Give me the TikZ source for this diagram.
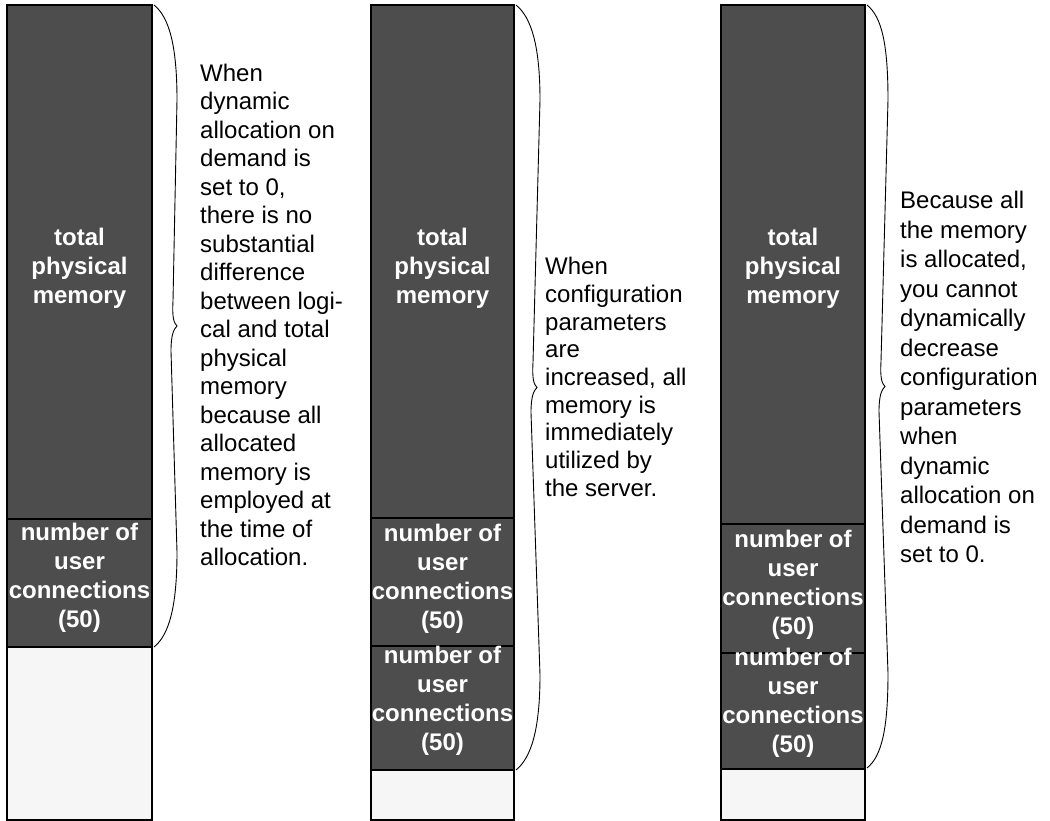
\documentclass[tikz,border=0pt]{standalone}
\usepackage{fontspec}
\setmainfont{Liberation Sans}
\definecolor{memdark}{RGB}{77,77,77}
\definecolor{memfree}{RGB}{246,246,246}
\tikzset{memfig/.style={x=1pt,y=-1pt,font=\fontsize{24}{28.5}\selectfont}}
\tikzset{used/.style={fill=memdark,draw=black,line width=1.6pt},
         spare/.style={fill=memfree,draw=black,line width=1.6pt},
         blocklabel/.style={white,align=center,inner sep=0pt,font=\bfseries\fontsize{24}{29}\selectfont},
         note/.style={anchor=west,align=left,inner sep=0pt},
         curly/.style={black,line width=0.9pt}}

\begin{document}
\begin{tikzpicture}[memfig]
    \useasboundingbox (0,0) rectangle (1050,821);
    % one block of user connections
    \draw[spare] (7,647) rectangle (152,820);
    \draw[used]  (7,5) rectangle (152,519);
    \draw[used]  (7,519) rectangle (152,647);
    \node[blocklabel] (phys1) at (79.5,268) {total\\physical\\memory};
    \node[blocklabel] (conn1) at (79.5,578) {number of\\user\\connections\\(50)};
    % two blocks, parameters increased
    \draw[spare] (371,770) rectangle (514,820);
    \draw[used]  (371,5) rectangle (514,518);
    \draw[used]  (371,518) rectangle (514,646);
    \draw[used]  (371,646) rectangle (514,770);
    \node[blocklabel] (phys2) at (442.5,268) {total\\physical\\memory};
    \node[blocklabel] (conn2a) at (442.5,579) {number of\\user\\connections\\(50)};
    \node[blocklabel] (conn2b) at (442.5,701) {number of\\user\\connections\\(50)};
    % two blocks, cannot decrease
    \draw[spare] (721,769) rectangle (865,820);
    \draw[used]  (721,5) rectangle (865,524);
    \draw[used]  (721,524) rectangle (865,653);
    \draw[used]  (721,653) rectangle (865,769);
    \node[blocklabel] (phys3) at (793,268) {total\\physical\\memory};
    \node[blocklabel] (conn3a) at (793,585) {number of\\user\\connections\\(50)};
    \node[blocklabel] (conn3b) at (793,703) {number of\\user\\connections\\(50)};
    % braces
    \foreach \bx/\btop/\bbot/\bw/\bt in {154/5/647/23/19, 516/5/770/24/17, 867/5/768/21/14}{
        \pgfmathsetmacro{\bmid}{(\btop+\bbot)/2}
        \draw[curly] (\bx,\btop) .. controls (\bx+15,\btop+12) and (\bx+\bw,\btop+40) .. (\bx+\bw,\btop+95)
            -- (\bx+\bt,\bmid-25) .. controls (\bx+\bt-1,\bmid-8) and (\bx+\bt+1,\bmid-3) .. (\bx+\bt+4,\bmid)
            .. controls (\bx+\bt+1,\bmid+3) and (\bx+\bt-2,\bmid+8) .. (\bx+\bt-2,\bmid+25)
            -- (\bx+\bw,\bbot-95) .. controls (\bx+\bw,\bbot-40) and (\bx+15,\bbot-12) .. (\bx,\bbot);
    }
    \node[note] (why1) at (200,315) {When\\dynamic\\allocation on\\demand is\\set to 0,\\there is no\\substantial\\difference\\between logi-\\cal and total\\physical\\memory\\because all\\allocated\\memory is\\employed at\\the time of\\allocation.};
    \node[note,font=\fontsize{24}{27.7}\selectfont] (why2) at (545,377) {When\\configuration\\parameters\\are\\increased, all\\memory is\\immediately\\utilized by\\the server.};
    \node[note,font=\fontsize{24}{29.5}\selectfont] (why3) at (900,377) {Because all\\the memory\\is allocated,\\you cannot\\dynamically\\decrease\\configuration\\parameters\\when\\dynamic\\allocation on\\demand is\\set to 0.};
\end{tikzpicture}
\end{document}
